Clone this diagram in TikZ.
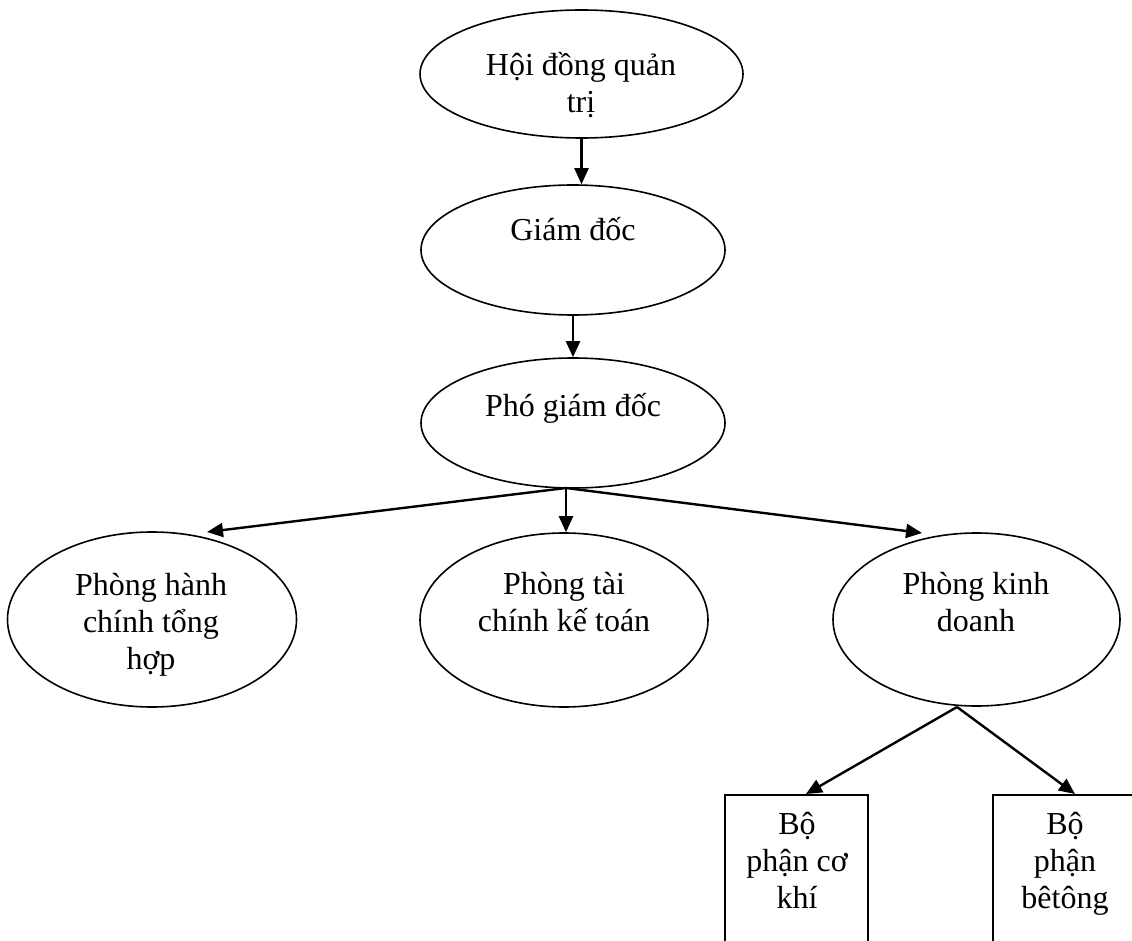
\documentclass[tikz,border=0pt]{standalone}
\usepackage{fontspec}
\setmainfont{Liberation Serif}
\usetikzlibrary{shapes.geometric,arrows.meta}
\begin{document}
\begin{tikzpicture}[x=1pt,y=-1pt,
  oval/.style={draw, ellipse, line width=1.6pt, inner sep=0pt},
  unitbox/.style={draw, rectangle, line width=1.6pt, inner sep=0pt, anchor=north},
  lbl/.style={align=center, anchor=base, inner sep=0pt, font=\fontsize{32}{37}\selectfont},
  arr/.style={line width=2.4pt, -{Triangle[length=16pt,width=14pt]}}]
\clip (0,0) rectangle (1132,941);
\fill[white] (0,0) rectangle (1132,941);

% shapes of the chart
\node[oval, minimum width=323pt, minimum height=128pt] (hd)  at (581.5,74)  {};
\node[oval, minimum width=304pt, minimum height=130pt] (gd)  at (573,250)   {};
\node[oval, minimum width=304pt, minimum height=130pt] (pgd) at (573,423)   {};
\node[oval, minimum width=289pt, minimum height=175pt] (hc)  at (152,619.5) {};
\node[oval, minimum width=288pt, minimum height=174pt] (tc)  at (564,620)   {};
\node[oval, minimum width=287pt, minimum height=173pt] (kd)  at (976.5,619.5) {};
\node[unitbox, minimum width=143pt, minimum height=180pt] (ck) at (796.5,794) {};
\node[unitbox, minimum width=143pt, minimum height=180pt] (bt) at (1064.5,794) {};

% texts (anchored at the baseline of the last line)
\node[lbl] (hdt)  at (581,113) {Hội đồng quản\\trị};
\node[lbl] (gdt)  at (573,241) {Giám đốc};
\node[lbl] (pgdt) at (573,416) {Phó giám đốc};
\node[lbl] (hct)  at (151,669) {Phòng hành\\chính tổng\\hợp};
\node[lbl] (tct)  at (564,631) {Phòng tài\\chính kế toán};
\node[lbl] (kdt)  at (976,631) {Phòng kinh\\doanh};
\node[lbl] (ckt)  at (797,908) {Bộ\\phận cơ\\khí};
\node[lbl] (btt)  at (1065,908) {Bộ\\phận\\bêtông};

% connector end points
\coordinate (pgdo) at (566,488);
\coordinate (hcin) at (207,532);
\coordinate (kdin) at (922,533);
\coordinate (kdo)  at (957,707);
\coordinate (ckin) at (806,794);
\coordinate (btin) at (1075,794);

% connectors
\draw[arr] (hd.south) -- (hd.south |- gd.north);
\draw[arr] (gd.south) -- (pgd.north);
\draw[arr] (pgdo) -- (hcin);
\draw[arr] (pgdo) -- (pgdo |- tc.north);
\draw[arr] (pgdo) -- (kdin);
\draw[arr] (kdo) -- (ckin);
\draw[arr] (kdo) -- (btin);
\end{tikzpicture}
\end{document}
